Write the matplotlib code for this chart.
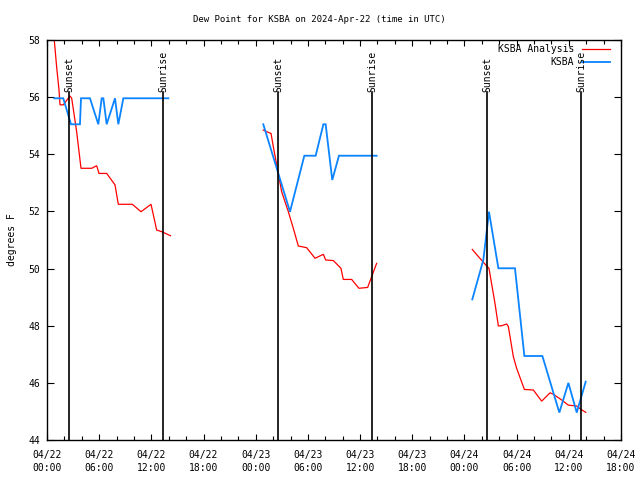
import matplotlib
matplotlib.use("Agg")
import matplotlib.pyplot as plt
import numpy as np

# hours since 2024-04-22 00:00 UTC
red1_t = [0.75, 1.12, 1.38, 1.50, 1.87, 2.64, 2.84, 3.41, 3.91, 5.14, 5.71, 5.98, 6.86, 7.82, 8.20, 9.81, 10.81, 11.96, 12.61, 13.19, 14.2]
red1_v = [58.3, 57.02, 56.25, 55.73, 55.73, 56.04, 55.96, 54.79, 53.51, 53.51, 53.60, 53.33, 53.33, 52.93, 52.25, 52.25, 51.99, 52.25, 51.35, 51.29, 51.15]
blue1_t = [0.84, 1.87, 2.76, 3.79, 3.91, 4.94, 5.90, 6.29, 6.48, 6.86, 7.82, 8.20, 8.78, 13.95]
blue1_v = [55.96, 55.96, 55.05, 55.05, 55.96, 55.96, 55.05, 55.96, 55.96, 55.05, 55.96, 55.05, 55.96, 55.96]

red2_t = [24.87, 25.26, 25.76, 26.02, 26.41, 26.98, 27.75, 28.32, 28.90, 29.86, 30.82, 31.78, 32.04, 32.92, 33.80, 34.07, 35.03, 35.87, 36.87, 37.33, 37.90]
red2_v = [54.85, 54.79, 54.73, 54.27, 53.63, 52.69, 51.99, 51.41, 50.79, 50.73, 50.36, 50.50, 50.30, 50.28, 50.01, 49.62, 49.62, 49.31, 49.34, 49.72, 50.18]
blue2_t = [24.87, 27.94, 29.59, 30.89, 31.78, 32.04, 32.80, 33.57, 37.90]
blue2_v = [55.05, 51.99, 53.95, 53.95, 55.05, 55.05, 53.10, 53.95, 53.95]

red3_t = [48.90, 49.60, 50.56, 50.82, 51.05, 51.51, 51.90, 52.28, 52.86, 53.05, 53.62, 54.00, 54.89, 55.92, 56.88, 57.84, 58.23, 59.18, 59.95, 60.91, 61.40, 61.94]
red3_v = [50.67, 50.42, 50.09, 50.01, 49.60, 48.78, 47.99, 48.00, 48.06, 47.97, 46.92, 46.51, 45.77, 45.75, 45.36, 45.65, 45.60, 45.40, 45.22, 45.19, 45.07, 44.97]
blue3_t = [48.90, 50.17, 50.82, 51.90, 53.81, 54.89, 56.96, 58.91, 59.95, 60.91, 61.94]
blue3_v = [48.92, 50.30, 51.99, 50.01, 50.01, 46.94, 46.94, 44.96, 46.00, 44.96, 46.04]

sunset_t = [2.53, 26.56, 50.59]
sunrise_t = [13.34, 37.37, 61.40]

xtick_hours = [0, 6, 12, 18, 24, 30, 36, 42, 48, 54, 60, 66]
xtick_labels = ["04/22\n00:00", "04/22\n06:00", "04/22\n12:00", "04/22\n18:00",
                "04/23\n00:00", "04/23\n06:00", "04/23\n12:00", "04/23\n18:00",
                "04/24\n00:00", "04/24\n06:00", "04/24\n12:00", "04/24\n18:00"]
yticks = [44, 46, 48, 50, 52, 54, 56, 58]

RED = "#ff0000"
BLUE = "#0a84ff"
FONT = "DejaVu Sans Mono"
FS = 7

plt.rcParams['font.family'] = [FONT]
fig = plt.figure(figsize=(6.4, 4.8), dpi=100)
ax = fig.add_axes([47/640, 1-440/480, (621-47)/640, 400/480])

for t, v in [(red1_t, red1_v), (red2_t, red2_v), (red3_t, red3_v)]:
    ax.plot(t, v, color=RED, lw=0.9, solid_joinstyle='miter')
for t, v in [(blue1_t, blue1_v), (blue2_t, blue2_v), (blue3_t, blue3_v)]:
    ax.plot(t, v, color=BLUE, lw=1.3, solid_joinstyle='miter')

lab_frac = (440-92)/400
for t in sunset_t:
    ax.axvline(t, ymin=0, ymax=lab_frac, color='black', lw=1.2)
    ax.text(t, lab_frac, "Sunset", rotation=90, ha='center', va='bottom',
            transform=ax.get_xaxis_transform(), fontsize=FS)
for t in sunrise_t:
    ax.axvline(t, ymin=0, ymax=lab_frac, color='black', lw=1.2)
    ax.text(t, lab_frac, "Sunrise", rotation=90, ha='center', va='bottom',
            transform=ax.get_xaxis_transform(), fontsize=FS)

ax.set_xlim(0, 66)
ax.set_ylim(44, 58)
ax.set_xticks(xtick_hours)
ax.set_xticklabels(xtick_labels, fontsize=FS, linespacing=1.4)
ax.set_xticks(np.arange(0, 67, 2), minor=True)
ax.set_yticks(yticks)
ax.set_yticklabels([str(y) for y in yticks], fontsize=FS)
ax.tick_params(axis='both', which='both', direction='in', top=True, right=True, width=0.8)
ax.tick_params(axis='x', which='major', length=4, pad=7)
ax.tick_params(axis='x', which='minor', length=3)
ax.tick_params(axis='y', which='major', length=5, pad=5)
for s in ax.spines.values():
    s.set_linewidth(1.0)

ax.set_ylabel("degrees F", fontsize=FS, labelpad=8)
fig.text(319/640, 1-20/480, "Dew Point for KSBA on 2024-Apr-22 (time in UTC)",
         ha='center', va='center', fontsize=6.5)

# legend (manual, gnuplot-style right-aligned)
for i, (name, col, lw) in enumerate([("KSBA Analysis", RED, 0.9), ("KSBA", BLUE, 1.3)]):
    yy = 1 - (49 + 13*i - 40)/400
    ax.text((574-47)/574, yy, name, ha='right', va='center', transform=ax.transAxes, fontsize=FS)
    ax.plot([(582-47)/574, (610-47)/574], [yy, yy], color=col, lw=lw, transform=ax.transAxes, clip_on=False)

fig.savefig("out.png", dpi=100, facecolor='white')
